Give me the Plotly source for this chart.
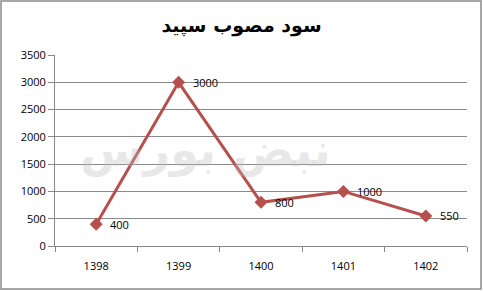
import plotly.graph_objects as go

years = ["1398", "1399", "1400", "1401", "1402"]
values = [400, 3000, 800, 1000, 550]
value_labels = ["400", "3000", "800", "1000", "550"]
y_ticks = [0, 500, 1000, 1500, 2000, 2500, 3000, 3500]
title_text = "سود مصوب سپید"

W, H = 483, 291
L, R, T, B = 55, 16, 55, 45
pw, ph = W - L - R, H - T - B
FONT = "Open Sans"

fig = go.Figure()

# faint watermark
fig.add_annotation(text="<b>نبض بورس</b>", x=(205 - L) / pw, y=(246 - 150) / ph, xref="paper", yref="paper",
                   showarrow=False, font=dict(family="DejaVu Sans", size=46, color="rgba(190,190,190,0.35)"))

fig.add_trace(go.Scatter(
    x=years, y=values, mode="lines+markers",
    line=dict(color="#B5504D", width=3),
    marker=dict(symbol="diamond", size=10, color="#B5504D"),
    cliponaxis=False, hoverinfo="skip",
))

for i, (yv, lab) in enumerate(zip(values, value_labels)):
    fig.add_annotation(x=i, y=yv, xref="x", yref="y", text=lab, showarrow=False,
                       xanchor="left", yanchor="middle",
                       xshift=12, font=dict(family=FONT, size=11, color="#000"))

# outer frame
fig.add_shape(type="rect", xref="paper", yref="paper",
              x0=(1 - L) / pw, x1=(481 - L) / pw, y0=(246 - 289) / ph, y1=(246 - 1) / ph,
              line=dict(color="#8a8a8a", width=1.5), layer="below")

fig.update_layout(
    width=W, height=H, margin=dict(l=L, r=R, t=T, b=B),
    paper_bgcolor="white", plot_bgcolor="white", showlegend=False,
    title=dict(text="<b>" + title_text + "</b>", x=0.5, xanchor="center", y=1 - 25 / H, yanchor="middle",
               font=dict(family="DejaVu Sans", size=19, color="#000")),
    xaxis=dict(type="category", range=[-0.5, 4.5], showgrid=False, showline=True, linecolor="#888",
               linewidth=1, ticks="outside", tickson="boundaries", ticklen=5, tickcolor="#888",
               ticklabelstandoff=10,
               tickfont=dict(family=FONT, size=11, color="#000"), fixedrange=True),
    yaxis=dict(range=[0, 3500], tickvals=y_ticks, showgrid=True, gridcolor="#8a8a8a", gridwidth=1,
               showline=True, linecolor="#888", linewidth=1, ticks="outside", ticklen=6, tickcolor="#888",
               zeroline=False, tickfont=dict(family=FONT, size=11, color="#000"), fixedrange=True),
)

fig.write_html("out.html")
